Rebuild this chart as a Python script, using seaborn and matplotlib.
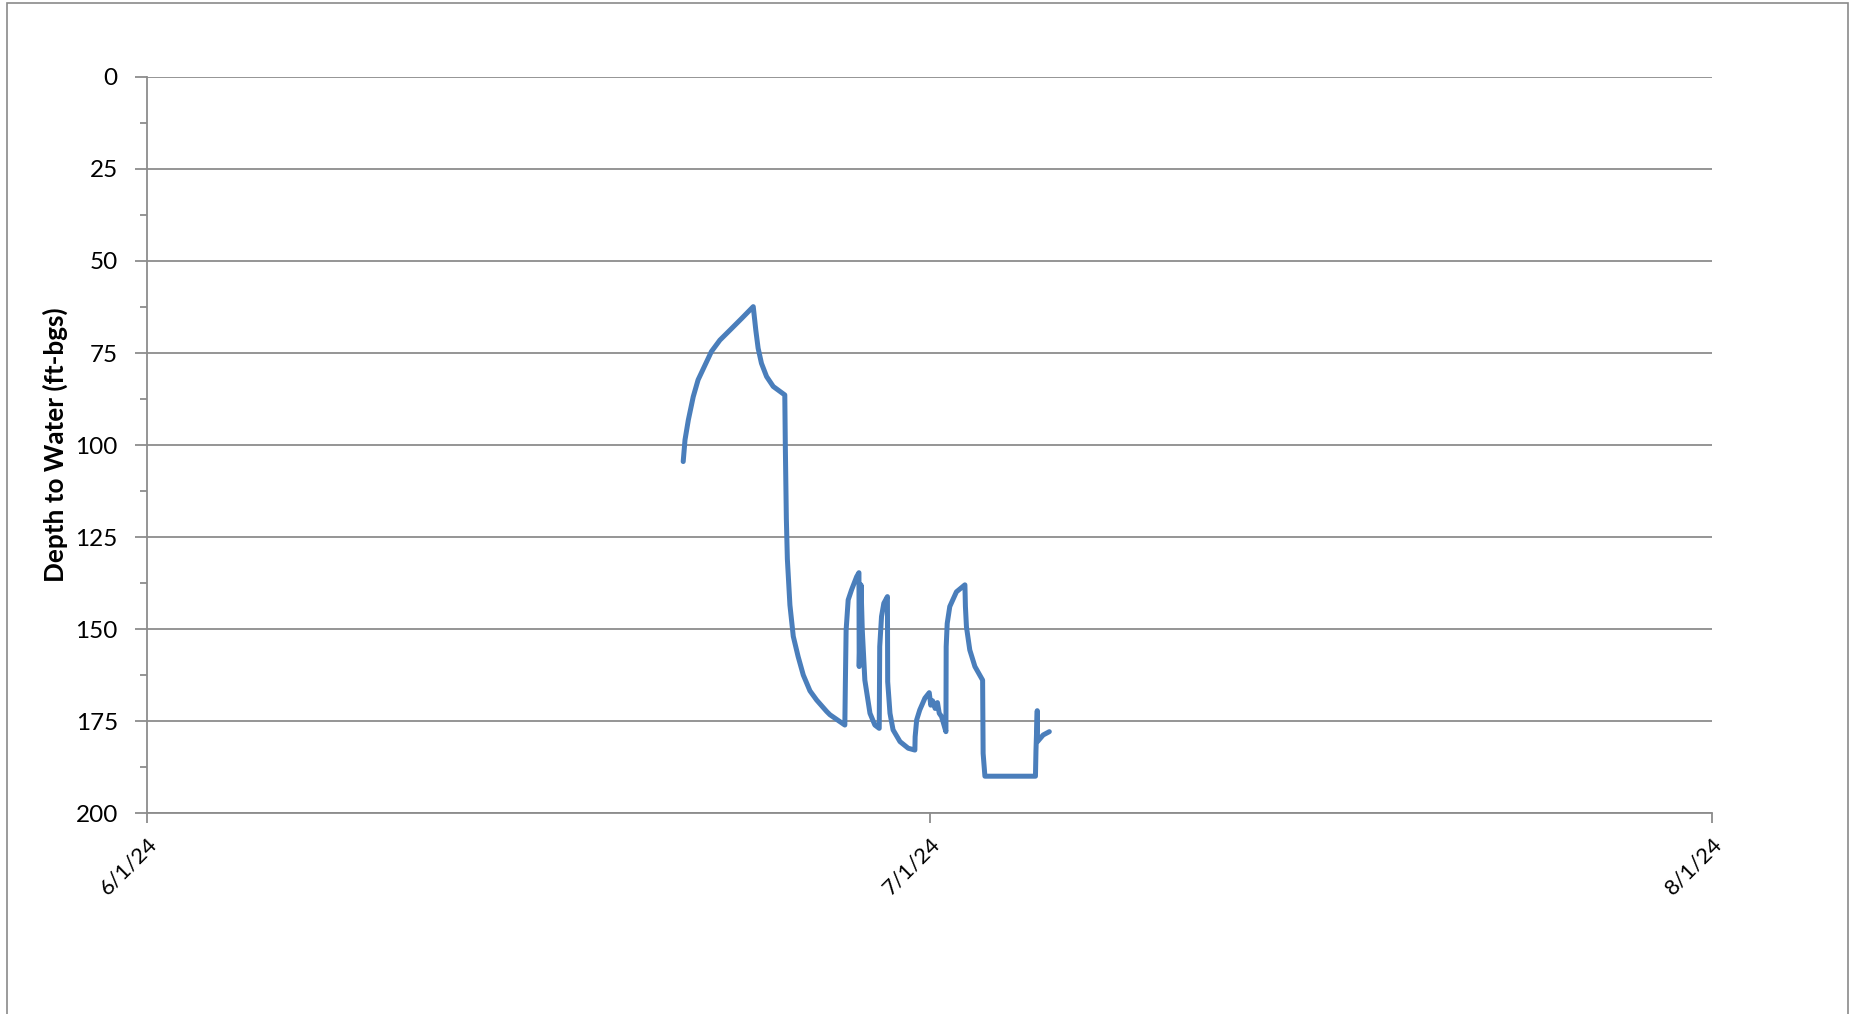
import matplotlib
matplotlib.use("Agg")
import matplotlib.pyplot as plt
from matplotlib.patches import Rectangle
from matplotlib.ticker import MultipleLocator
import pandas as pd
import seaborn as sns

# ---- data ----
timestamps = [
    "2024-06-21 21:36", "2024-06-21 23:17", "2024-06-22 02:24", "2024-06-22 06:58",
    "2024-06-22 11:31", "2024-06-22 18:00", "2024-06-23 00:00", "2024-06-23 07:55",
    "2024-06-23 17:17", "2024-06-24 04:19", "2024-06-24 15:07", "2024-06-24 17:31",
    "2024-06-24 19:41", "2024-06-24 22:48", "2024-06-25 03:36", "2024-06-25 09:50",
    "2024-06-25 20:38", "2024-06-25 21:07", "2024-06-25 22:05", "2024-06-25 23:02",
    "2024-06-26 01:26", "2024-06-26 04:34", "2024-06-26 09:07", "2024-06-26 13:55",
    "2024-06-26 20:10", "2024-06-27 02:24", "2024-06-27 11:46", "2024-06-27 14:53",
    "2024-06-28 04:48", "2024-06-28 05:17", "2024-06-28 06:00", "2024-06-28 07:55",
    "2024-06-28 11:02", "2024-06-28 15:50", "2024-06-28 18:00", "2024-06-28 18:14",
    "2024-06-28 19:55", "2024-06-28 21:07", "2024-06-28 23:31", "2024-06-29 04:19",
    "2024-06-29 08:53", "2024-06-29 12:58", "2024-06-29 13:26", "2024-06-29 15:07",
    "2024-06-29 17:17", "2024-06-29 20:38", "2024-06-29 20:53", "2024-06-29 23:02",
    "2024-06-30 01:55", "2024-06-30 08:24", "2024-06-30 16:05", "2024-06-30 22:19",
    "2024-06-30 22:34", "2024-07-01 00:00", "2024-07-01 02:53", "2024-07-01 07:41",
    "2024-07-01 11:46", "2024-07-01 13:12", "2024-07-01 14:53", "2024-07-01 17:17",
    "2024-07-01 19:26", "2024-07-01 21:07", "2024-07-01 23:17", "2024-07-02 03:22",
    "2024-07-02 03:36", "2024-07-02 04:34", "2024-07-02 06:58", "2024-07-02 13:12",
    "2024-07-02 21:07", "2024-07-02 21:36", "2024-07-02 22:34", "2024-07-03 01:41",
    "2024-07-03 06:29", "2024-07-03 13:41", "2024-07-03 14:10", "2024-07-03 15:50",
    "2024-07-04 12:00", "2024-07-05 15:07", "2024-07-05 15:36", "2024-07-05 16:48",
    "2024-07-05 17:02", "2024-07-05 22:19", "2024-07-06 04:05",
]
depth_ft = [
    104.5, 98.6, 93.2, 86.9,
    82.3, 78.3, 74.6, 71.5,
    68.8, 65.6, 62.4, 68.8,
    73.7, 77.8, 81.4, 84.1,
    86.4, 100.0, 120.0, 131.0,
    143.5, 152.0, 157.5, 162.5,
    166.8, 169.3, 172.4, 173.3,
    176.1, 165.0, 150.3, 142.1,
    139.4, 135.8, 134.7, 160.2,
    138.0, 150.3, 163.9, 172.9,
    176.1, 177.0, 154.8, 146.6,
    143.0, 141.2, 164.3, 172.9,
    177.4, 180.6, 182.4, 182.9,
    179.3, 174.7, 172.0, 168.8,
    167.3, 170.7, 169.5, 171.6,
    170.0, 172.9, 173.8, 177.9,
    154.8, 148.5, 143.9, 139.9,
    138.0, 143.9, 149.4, 155.7,
    160.2, 163.9, 183.8, 190.0,
    190.0, 190.0, 183.0, 172.2,
    180.6, 178.8, 177.9,
]
x_tick_dates = ["2024-06-01 00:00", "2024-07-01 12:00", "2024-08-01 00:00"]
x_tick_labels = ["6/1/24", "7/1/24", "8/1/24"]
y_ticks = [0, 25, 50, 75, 100, 125, 150, 175, 200]
y_label = "Depth to Water (ft-bgs)"

df = pd.DataFrame({"time": pd.to_datetime(timestamps), "depth": depth_ft})

# ---- style ----
sns.set_theme(style="white")
plt.rcParams["font.family"] = ["Lato", "DejaVu Sans"]

GRID = "#8c8c8c"
LINE = "#4a7ebb"

fig = plt.figure(figsize=(18.55, 10.14), dpi=100)
fig.patch.set_facecolor("white")

# chart-area border (bottom edge falls outside the image)
fig.patches.append(Rectangle((7 / 1855, -0.05), (1848 - 7) / 1855, 1.05 - 3 / 1014,
                             transform=fig.transFigure, fill=False,
                             edgecolor="#8a8a8a", linewidth=1.2))

ax = fig.add_axes([147 / 1855, 1 - 813 / 1014, (1712 - 147) / 1855, (813 - 77) / 1014])

sns.lineplot(data=df, x="time", y="depth", ax=ax, sort=False, estimator=None,
             color=LINE, linewidth=3.6)
for ln in ax.lines:
    ln.set_solid_joinstyle("round")
    ln.set_solid_capstyle("round")

ax.set_xlim(pd.Timestamp(x_tick_dates[0]), pd.Timestamp(x_tick_dates[-1]))
ax.set_ylim(200, 0)

ax.set_yticks(y_ticks)
ax.set_yticklabels([str(v) for v in y_ticks], fontsize=17.5, color="black")
ax.yaxis.set_minor_locator(MultipleLocator(12.5))

ax.set_xticks(pd.to_datetime(x_tick_dates))
ax.set_xticklabels(x_tick_labels, rotation=45, ha="right", rotation_mode="anchor",
                   fontsize=16, color="black")

ax.grid(axis="y", which="major", color=GRID, linewidth=1.3)
ax.grid(axis="x", visible=False)
ax.set_axisbelow(True)

for side in ["top", "right"]:
    ax.spines[side].set_visible(False)
for side in ["left", "bottom"]:
    ax.spines[side].set_color(GRID)
    ax.spines[side].set_linewidth(1.3)

ax.tick_params(axis="y", which="major", direction="out", length=9, width=1.3,
               color=GRID, pad=12, left=True)
ax.tick_params(axis="y", which="minor", direction="out", length=5, width=1.3,
               color=GRID, left=True)
ax.tick_params(axis="x", which="major", direction="out", length=7, width=1.3,
               color=GRID, pad=8, bottom=True)

ax.set_xlabel("")
ax.set_ylabel(y_label, fontsize=18.8, fontweight="bold", color="black")
ax.yaxis.set_label_coords((55 - 147) / 1565, 0.5)
ax.yaxis.label.set_verticalalignment("center")

fig.savefig("out.png", dpi=100, facecolor="white")
